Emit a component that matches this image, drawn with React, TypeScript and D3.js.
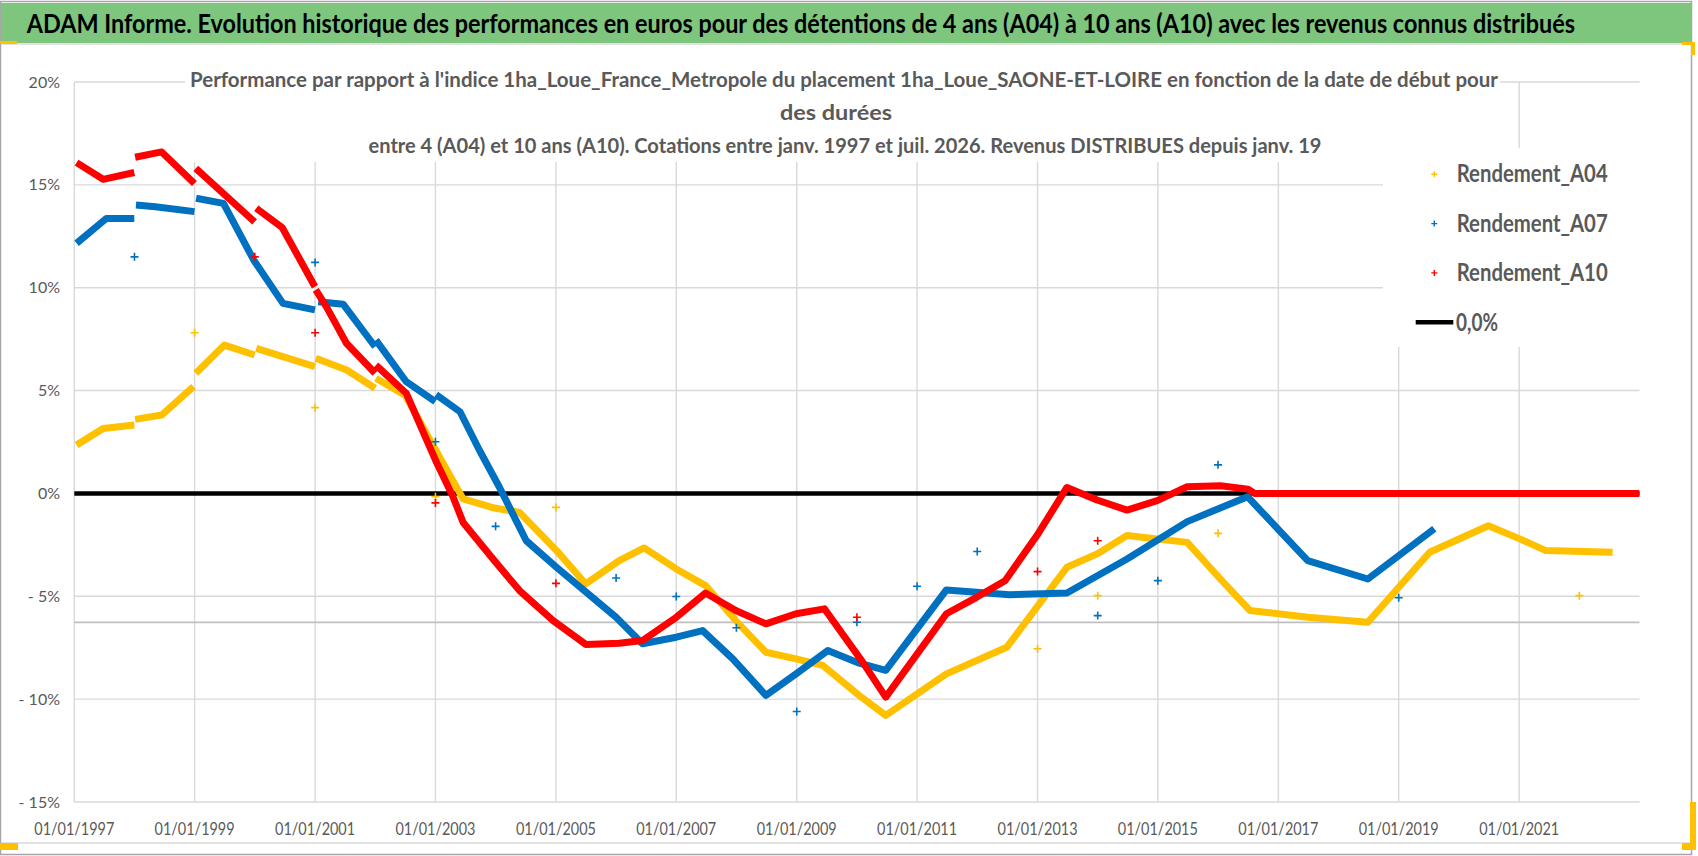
import * as d3 from "d3";

// [date, rendement en %] ; chaque sous-tableau est un tronçon continu
type Pt = [string, number];

const rendementA04: Pt[][] = [
  [["1997-01-15", 2.35], ["1997-06-25", 3.16], ["1997-12-31", 3.33]],
  [["1998-01-05", 3.6], ["1998-06-15", 3.81], ["1998-12-25", 5.19]],
  [["1999-01-08", 5.84], ["1999-07-01", 7.21], ["1999-12-31", 6.73]],
  [["2000-01-10", 7.05], ["2000-12-31", 6.16]],
  [["2001-01-05", 6.57], ["2001-07-12", 6.0], ["2001-12-31", 5.11]],
  [
    ["2002-01-05", 5.6], ["2002-07-01", 4.78], ["2003-01-08", 2.03],
    ["2003-06-18", -0.27], ["2003-12-25", -0.71], ["2004-05-25", -0.92],
    ["2005-01-05", -2.78], ["2005-07-01", -4.4], ["2006-01-20", -3.27],
    ["2006-06-20", -2.65], ["2007-01-01", -3.67], ["2007-06-28", -4.48],
    ["2007-12-28", -6.18], ["2008-06-28", -7.72], ["2008-12-28", -8.04],
    ["2009-06-08", -8.36], ["2010-01-15", -9.82], ["2010-06-25", -10.79],
    ["2011-06-28", -8.77], ["2012-06-28", -7.48], ["2012-12-28", -5.53],
    ["2013-06-28", -3.59], ["2013-12-28", -2.94], ["2014-06-28", -2.05],
    ["2015-06-28", -2.38], ["2016-01-15", -4.16], ["2016-07-12", -5.69],
    ["2017-06-28", -6.02], ["2018-06-28", -6.26], ["2019-07-08", -2.86],
    ["2020-06-28", -1.57], ["2021-01-05", -2.21], ["2021-06-12", -2.78],
    ["2022-07-22", -2.86],
  ],
];

const rendementA07: Pt[][] = [
  [["1997-01-15", 12.16], ["1997-07-15", 13.37], ["1997-12-31", 13.37]],
  [["1998-01-10", 14.02], ["1998-05-08", 13.94], ["1998-12-31", 13.7]],
  [["1999-01-10", 14.35], ["1999-06-25", 14.1], ["1999-12-25", 11.35], ["2000-06-20", 9.24], ["2000-12-31", 8.92]],
  [["2001-01-20", 9.32], ["2001-06-20", 9.2], ["2001-12-31", 7.13]],
  [["2002-01-05", 7.45], ["2002-07-08", 5.43], ["2002-12-31", 4.46]],
  [
    ["2003-01-05", 4.8], ["2003-05-30", 3.97], ["2003-09-25", 2.1],
    ["2004-01-25", 0.29], ["2004-07-05", -2.3], ["2005-01-05", -3.59],
    ["2006-01-01", -6.02], ["2006-06-10", -7.31], ["2007-01-01", -6.99],
    ["2007-06-10", -6.67], ["2007-12-10", -8.04], ["2008-06-28", -9.82],
    ["2008-12-28", -8.77], ["2009-07-08", -7.64], ["2010-01-15", -8.25],
    ["2010-06-25", -8.6], ["2011-06-28", -4.69], ["2011-12-28", -4.8],
    ["2012-07-15", -4.92], ["2013-06-28", -4.84], ["2014-06-28", -3.19],
    ["2015-06-28", -1.37], ["2016-06-28", -0.16], ["2017-06-28", -3.27],
    ["2018-06-28", -4.16], ["2019-08-05", -1.72],
  ],
];

const rendementA10: Pt[][] = [
  [["1997-01-15", 16.08], ["1997-06-25", 15.27], ["1997-12-31", 15.6]],
  [["1998-01-05", 16.34], ["1998-06-15", 16.6], ["1998-12-31", 15.07]],
  [["1999-01-08", 15.8], ["1999-12-31", 13.2]],
  [["2000-01-10", 13.86], ["2000-06-15", 12.93], ["2000-12-31", 10.05]],
  [["2001-01-05", 9.9], ["2001-03-10", 9.08], ["2001-07-10", 7.3], ["2001-12-31", 5.84]],
  [
    ["2002-01-05", 6.24], ["2002-07-08", 4.87], ["2003-01-08", 1.5],
    ["2003-04-15", -0.11], ["2003-06-18", -1.41], ["2003-12-25", -3.27],
    ["2004-05-25", -4.72], ["2004-12-15", -6.18], ["2005-07-01", -7.34],
    ["2006-01-20", -7.28], ["2006-06-10", -7.15], ["2007-01-01", -6.02],
    ["2007-06-28", -4.84], ["2007-12-28", -5.69], ["2008-06-28", -6.34],
    ["2008-12-28", -5.85], ["2009-06-18", -5.61], ["2010-02-05", -8.2],
    ["2010-06-25", -9.9], ["2011-06-28", -5.85], ["2011-12-28", -5.05],
    ["2012-06-18", -4.24], ["2012-12-28", -2.05], ["2013-06-28", 0.29],
    ["2013-12-28", -0.32], ["2014-06-28", -0.81], ["2014-12-28", -0.35],
    ["2015-06-28", 0.33], ["2016-01-15", 0.37], ["2016-07-01", 0.21],
    ["2016-08-10", 0], ["2022-12-31", 0],
  ],
];

// points isolés du 1er janvier
const isolesA04: Pt[] = [
  ["1999-01-01", 7.81], ["2001-01-01", 4.17], ["2003-01-01", -0.16], ["2005-01-01", -0.68],
  ["2013-01-01", -7.55], ["2014-01-01", -4.97], ["2016-01-01", -1.94], ["2022-01-01", -4.97],
];
const isolesA07: Pt[] = [
  ["1998-01-01", 11.5], ["2001-01-01", 11.23], ["2003-01-01", 2.51], ["2004-01-01", -1.6],
  ["2006-01-01", -4.11], ["2007-01-01", -5.01], ["2008-01-01", -6.53], ["2009-01-01", -10.6],
  ["2010-01-01", -6.26], ["2011-01-01", -4.51], ["2012-01-01", -2.82], ["2014-01-01", -5.94],
  ["2015-01-01", -4.24], ["2016-01-01", 1.39], ["2019-01-01", -5.07],
];
const isolesA10: Pt[] = [
  ["2000-01-01", 11.5], ["2001-01-01", 7.81], ["2003-01-01", -0.46], ["2005-01-01", -4.37],
  ["2010-01-01", -6.02], ["2013-01-01", -3.8], ["2014-01-01", -2.3],
];

const ligneRef = -6.27;
const yTicks = [-15, -10, -5, 0, 5, 10, 15, 20];
const xTickYears = [1997, 1999, 2001, 2003, 2005, 2007, 2009, 2011, 2013, 2015, 2017, 2019, 2021];

const titre =
  "ADAM Informe. Evolution historique des performances en euros pour des détentions de 4 ans (A04) à 10 ans (A10) avec les revenus connus distribués";
const sousTitre = [
  "Performance par rapport à l'indice 1ha_Loue_France_Metropole  du placement 1ha_Loue_SAONE-ET-LOIRE en fonction de la date de début pour",
  "des durées",
  "entre 4 (A04) et 10 ans (A10).  Cotations entre janv. 1997 et juil. 2026. Revenus DISTRIBUES depuis janv. 19",
];

const series = [
  { nom: "Rendement_A04", couleur: "#FFC000", troncons: rendementA04, isoles: isolesA04 },
  { nom: "Rendement_A07", couleur: "#0070C0", troncons: rendementA07, isoles: isolesA07 },
  { nom: "Rendement_A10", couleur: "#FF0000", troncons: rendementA10, isoles: isolesA10 },
];

const W = 1698;
const H = 856;
const FONT = "Lato, 'Open Sans', sans-serif";

export default function App() {
  const parse = d3.timeParse("%Y-%m-%d");
  const x = d3
    .scaleTime()
    .domain([new Date(1997, 0, 1), new Date(2023, 0, 1)])
    .range([74.3, 1639.5]);
  const y = d3.scaleLinear().domain([-15, 20]).range([802, 82]);

  const line = d3
    .line<Pt>()
    .x((d) => x(parse(d[0])!))
    .y((d) => y(d[1]));

  const [x0, x1] = x.range();
  const xTicks = xTickYears.map((a) => new Date(a, 0, 1));
  const fmt = d3.timeFormat("%d/%m/%Y");

  const plus = (cx: number, cy: number, s: number, c: string, w = 1.6) => (
    <path d={`M${cx - s},${cy}H${cx + s}M${cx},${cy - s}V${cy + s}`} stroke={c} strokeWidth={w} />
  );

  return (
    <div style={{ position: "absolute", left: 0, top: 0 }}>
      <svg width={W} height={H} style={{ display: "block", background: "#fff" }} fontFamily={FONT}>
        {/* cadre et bandeau */}
        <rect x={0.5} y={1.5} width={1691} height={853} fill="#fff" stroke="#a6a6a6" strokeWidth={1.5} />
        <rect x={1} y={3} width={1690} height={40} fill="#7ec67e" />
        <line x1={1} x2={1691} y1={44} y2={44} stroke="#d9d9d9" strokeWidth={1.5} />
        <line x1={1} x2={1691} y1={843} y2={843} stroke="#d9d9d9" strokeWidth={1.5} />
        <g transform="translate(26.7,33.3) scale(0.9,1)">
          <text x={0} y={0} fontSize={26} fontWeight={700} fill="#000">
            {titre}
          </text>
        </g>

        {/* grille */}
        {yTicks.map((t) => (
          <line key={t} x1={x0} x2={x1} y1={y(t)} y2={y(t)} stroke="#d9d9d9" strokeWidth={1.4} />
        ))}
        {xTicks.map((d) => (
          <line key={+d} x1={x(d)} x2={x(d)} y1={y(20)} y2={y(-15)} stroke="#d9d9d9" strokeWidth={1.4} />
        ))}
        <line x1={x0} x2={x1} y1={y(ligneRef)} y2={y(ligneRef)} stroke="#bfbfbf" strokeWidth={1.6} />

        {/* axes */}
        {yTicks.map((t) => (
          <text key={t} x={60} y={y(t) + 5.5} textAnchor="end" fontSize={16} fill="#595959">
            {t < 0 ? `- ${-t}%` : `${t}%`}
          </text>
        ))}
        {xTicks.map((d) => (
          <text key={+d} x={x(d)} y={835} textAnchor="middle" fontSize={18} fill="#595959" textLength={80} lengthAdjust="spacingAndGlyphs">
            {fmt(d)}
          </text>
        ))}

        {/* 0,0% */}
        <line x1={x0} x2={x1} y1={y(0)} y2={y(0)} stroke="#000" strokeWidth={4.5} />

        {/* séries */}
        {series.map((s) => (
          <g key={s.nom}>
            {s.troncons.map((t, i) => (
              <path key={i} d={line(t) || ""} fill="none" stroke={s.couleur} strokeWidth={7} strokeLinejoin="round" />
            ))}
            {s.isoles.map((p, i) => (
              <g key={"p" + i}>{plus(x(parse(p[0])!), y(p[1]), 4, s.couleur)}</g>
            ))}
          </g>
        ))}

        {/* titre du graphique */}
        <rect x={185} y={64} width={1315} height={98} fill="#fff" />
        <g fontSize={20.5} fontWeight={700} fill="#595959" textAnchor="middle" style={{ whiteSpace: "pre" }}>
          <text x={844} y={87.3} textLength={1308} lengthAdjust="spacingAndGlyphs">{sousTitre[0]}</text>
          <text x={836} y={120} textLength={112} lengthAdjust="spacingAndGlyphs">{sousTitre[1]}</text>
          <text x={845} y={153} textLength={953} lengthAdjust="spacingAndGlyphs">{sousTitre[2]}</text>
        </g>

        {/* légende */}
        <rect x={1383} y={148} width={257} height={199} fill="#fff" />
        {series.map((s, i) => (
          <g key={s.nom}>
            {plus(1434.3, 174.3 + i * 49.3, 3, s.couleur, 1.4)}
            <text x={1456.7} y={182.3 + i * 49.3} fontSize={24} fontWeight={700} fill="#595959" textLength={151} lengthAdjust="spacingAndGlyphs">
              {s.nom}
            </text>
          </g>
        ))}
        <line x1={1415.7} x2={1453.3} y1={322.3} y2={322.3} stroke="#000" strokeWidth={4.5} />
        <text x={1456} y={330.5} fontSize={24} fontWeight={700} fill="#595959" textLength={42} lengthAdjust="spacingAndGlyphs">
          0,0%
        </text>

        {/* poignées de sélection */}
        <g fill="#FFC000">
          <rect x={0} y={41} width={17} height={3} />
          <rect x={1682} y={42} width={13} height={3} />
          <rect x={1691} y={42} width={4} height={13} />
          <rect x={0} y={843} width={18} height={7} />
          <rect x={1690} y={802} width={6} height={48} />
          <rect x={1682} y={843} width={14} height={7} />
        </g>
      </svg>
    </div>
  );
}
